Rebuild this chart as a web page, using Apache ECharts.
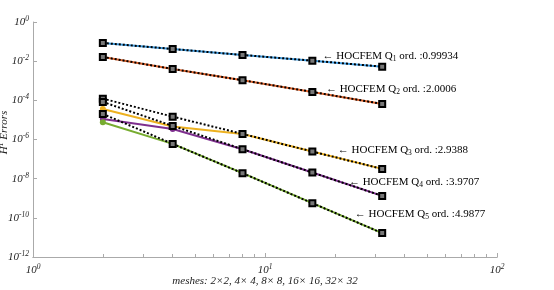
<!DOCTYPE html>
<html><head><meta charset="utf-8">
<script src="https://cdn.jsdelivr.net/npm/echarts@6/dist/echarts.min.js"></script>
<style>html,body{margin:0;padding:0;background:#fff}#c{width:554px;height:290px}</style>
</head><body><div id="c"></div>
<script>
const meshes = [2, 4, 8, 16, 32];
const q1 = [0.0849, 0.0419, 0.0207, 0.01062, 0.00524];
const q2 = [1.64e-2, 4.0e-3, 1.06e-3, 2.69e-4, 6.55e-5];
const q3 = [3.64e-5, 4.66e-6, 1.93e-6, 2.42e-7, 3.16e-8];
const q4 = [1.12e-5, 3.47e-6, 3.2e-7, 2.05e-8, 1.32e-9];
const q5 = [7.63e-6, 5.97e-7, 1.91e-8, 5.6e-10, 1.66e-11];
const ref1 = [0.0849, 0.0419, 0.0207, 0.01062, 0.00524];
const ref2 = [1.64e-2, 4.0e-3, 1.06e-3, 2.69e-4, 6.55e-5];
const ref3 = [1.22e-4, 1.47e-5, 1.93e-6, 2.42e-7, 3.16e-8];
const ref4 = [8.28e-5, 4.94e-6, 3.2e-7, 2.05e-8, 1.32e-9];
const ref5 = [2.02e-5, 5.97e-7, 1.91e-8, 5.6e-10, 1.66e-11];
const subs = ['1', '2', '3', '4', '5'];
const orders = ['0.99934', '2.0006', '2.9388', '3.9707', '4.9877'];
const annoX = [17.7, 18.3, 20.6, 23.0, 24.4];
const annoY = [0.0184, 4.14e-4, 2.94e-7, 7.1e-9, 1.6e-10];
const yTicks = [1e-12, 1e-10, 1e-8, 1e-6, 1e-4, 1e-2, 1];
const xTicks = [1, 10, 100];
const xMinor = [2, 3, 4, 5, 6, 7, 8, 9, 20, 30, 40, 50, 60, 70, 80, 90];
const colors = ['#3D9BE0', '#E0622A', '#EDB120', '#7E2F8E', '#77AC30'];

const FONT = '"Liberation Serif","DejaVu Serif",serif';
const chart = echarts.init(document.getElementById('c'));
function pw(v) {
  const e = Math.round(Math.log10(v));
  return '{b|10}{s|' + e + '}';
}
const rich = {
  b: {fontFamily: FONT, fontStyle: 'italic', fontSize: 11, color: '#222'},
  s: {fontFamily: FONT, fontStyle: 'italic', fontSize: 7.5, color: '#222', verticalAlign: 'top', padding: [0, 0, 6, 0]}
};
const colSeries = [q1, q2, q3, q4, q5].map((d, i) => ({
  type: 'line', data: meshes.map((m, j) => [m, d[j]]),
  symbol: 'circle', symbolSize: 6, showSymbol: true,
  lineStyle: {color: colors[i], width: 2},
  itemStyle: {color: colors[i]}, z: 2, animation: false
}));
const refSeries = [ref1, ref2, ref3, ref4, ref5].map((d) => ({
  type: 'line', data: meshes.map((m, j) => [m, d[j]]),
  symbol: 'rect', symbolSize: 6,
  lineStyle: {color: '#000', width: 2, type: [2, 2]},
  itemStyle: {color: '#777', borderColor: '#000', borderWidth: 2}, z: 3, animation: false
}));
const axisGray = '#aaaaaa';
chart.setOption({
  animation: false,
  grid: {left: 33, right: 57, top: 22, bottom: 33, outerBoundsMode: 'none', containLabel: false},
  xAxis: [{
    type: 'log', logBase: 10, min: 1, max: 100,
    name: 'meshes: 2×2, 4× 4, 8× 8, 16× 16, 32× 32', nameLocation: 'middle', nameGap: 19,
    nameMoveOverlap: false,
    nameTextStyle: {fontFamily: FONT, fontStyle: 'italic', fontSize: 11, color: '#222'},
    axisLine: {show: true, lineStyle: {color: axisGray, width: 1}},
    axisTick: {show: true, inside: true, length: 4, lineStyle: {color: axisGray}, customValues: xTicks},
    axisLabel: {customValues: xTicks, formatter: pw, rich: rich, margin: 6},
    splitLine: {show: false}
  }, {
    type: 'log', logBase: 10, min: 1, max: 100, position: 'bottom',
    axisLine: {show: true, lineStyle: {color: axisGray, width: 1}},
    axisTick: {show: true, inside: true, length: 3, lineStyle: {color: axisGray}, customValues: xMinor},
    axisLabel: {show: false}, splitLine: {show: false}
  }],
  yAxis: {
    type: 'log', logBase: 10, min: 1e-12, max: 1,
    name: '{i|H}{u|1}{i| Errors}', nameLocation: 'middle', nameGap: 22,
    nameMoveOverlap: false,
    nameTextStyle: {padding: [0, 0, 0, 14], rich: {
      i: {fontFamily: FONT, fontStyle: 'italic', fontSize: 11, color: '#222'},
      u: {fontFamily: FONT, fontStyle: 'italic', fontSize: 7.5, color: '#222', verticalAlign: 'top', padding: [0, 0, 6, 0]}
    }},
    axisLine: {show: true, lineStyle: {color: axisGray, width: 1}},
    axisTick: {show: true, inside: true, length: 4, lineStyle: {color: axisGray}, customValues: yTicks},
    axisLabel: {customValues: yTicks, formatter: pw, rich: rich, margin: 4},
    splitLine: {show: false}
  },
  series: colSeries.concat(refSeries)
});
const annRich = {
  t: {fontFamily: FONT, fontSize: 11, color: '#222'},
  sb: {fontFamily: FONT, fontSize: 7.5, color: '#222', verticalAlign: 'bottom', padding: [6, 0, 0, 0]}
};
const g = subs.map((s, i) => {
  const p = chart.convertToPixel({xAxisIndex: 0, yAxisIndex: 0}, [annoX[i], annoY[i]]);
  return {
    type: 'text', left: p[0], top: p[1] - 5, z: 10,
    style: {
      text: '{t|← HOCFEM Q}{sb|' + s + '}{t| ord. :' + orders[i] + '}',
      rich: annRich
    }
  };
});
chart.setOption({graphic: g});
</script></body></html>
